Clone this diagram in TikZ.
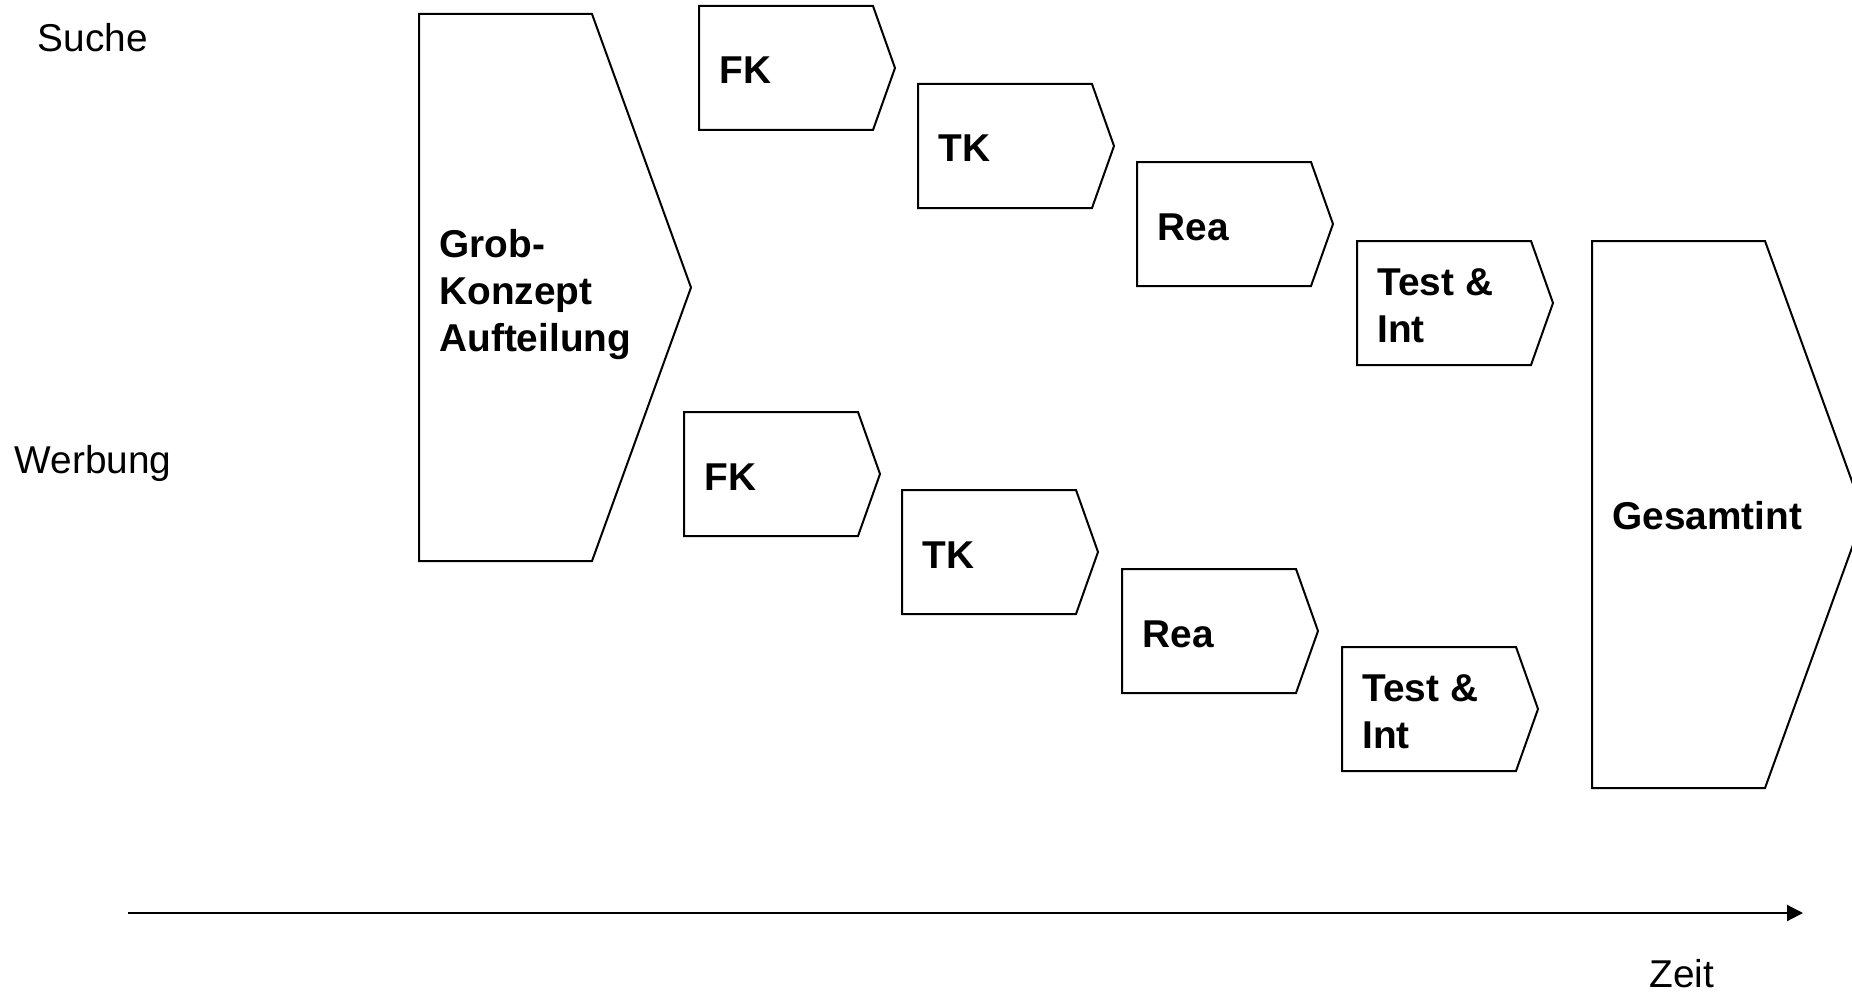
\documentclass[tikz,border=0pt]{standalone}
\usepackage{fontspec}
\setmainfont{Liberation Sans}
\usetikzlibrary{arrows.meta}
\newcommand\chevshape[5]{\draw[chevline] (#1,#2) -- ++(#3,0) -- ++(#5,#4/2) -- ++(-#5,#4/2) -- ++(-#3,0) -- cycle;}
\tikzset{
  chevline/.style={draw=black, line width=1pt, line join=miter},
  lbl/.style={anchor=west, inner sep=0pt, align=left, font=\fontsize{19.4}{23.5}\selectfont\bfseries},
  side/.style={inner sep=0pt, font=\fontsize{19.4}{23}\selectfont},
  timeline/.style={line width=1pt, -{Triangle[length=8pt,width=8pt]}}
}
\begin{document}
\begin{tikzpicture}[x=0.5pt,y=-0.5pt]
\useasboundingbox (0,0) rectangle (1852,995);
\clip (0,0) rectangle (1852,995);
% big shapes
\chevshape{419}{14}{173}{547}{99}
\chevshape{1592}{241}{173}{547}{99}
% upper row
\chevshape{699}{6}{174}{124}{22}
\chevshape{918}{84}{174}{124}{22}
\chevshape{1137}{162}{174}{124}{22}
\chevshape{1357}{241}{174}{124}{22}
% lower row
\chevshape{684}{412}{174}{124}{22}
\chevshape{902}{490}{174}{124}{22}
\chevshape{1122}{569}{174}{124}{22}
\chevshape{1342}{647}{174}{124}{22}
% labels
\node[lbl] (grob) at (439,295) {Grob-\\Konzept\\Aufteilung};
\node[lbl] (gesamt) at (1612,516) {Gesamtint};
\node[lbl] (fk1) at (719,70) {FK};
\node[lbl] (tk1) at (938,148) {TK};
\node[lbl] (rea1) at (1157,227) {Rea};
\node[lbl] (ti1) at (1377,306) {Test \&\\Int};
\node[lbl] (fk2) at (704,477) {FK};
\node[lbl] (tk2) at (922,555) {TK};
\node[lbl] (rea2) at (1142,634) {Rea};
\node[lbl] (ti2) at (1362,712) {Test \&\\Int};
% side labels
\node[side] (suche) at (93,38) {Suche};
\node[side] (werbung) at (93,463) {Werbung};
\node[side, anchor=base] (zeit) at (1682,987) {Zeit};
% time axis
\coordinate (t0) at (128,913);
\coordinate (t1) at (1803,913);
\draw[timeline] (t0) -- (t1);
\end{tikzpicture}
\end{document}
